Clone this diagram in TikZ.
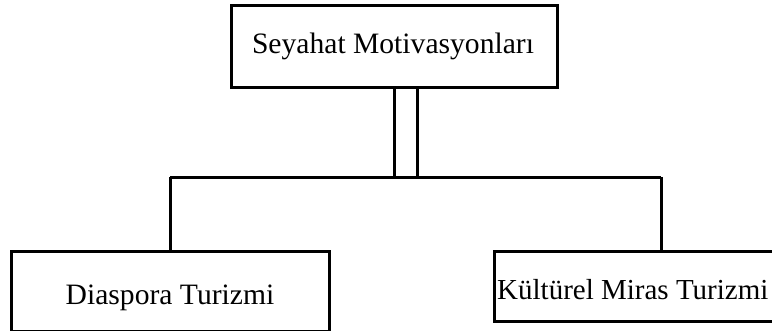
\documentclass[tikz,border=0pt]{standalone}
\usepackage{fontspec}
\setmainfont{Liberation Serif}
\begin{document}
\begin{tikzpicture}[x=1pt,y=-1pt,
  box/.style={draw=black,line width=3pt,fill=white,inner sep=0pt},
  conn/.style={draw=black,line width=3pt},
  lbl/.style={font=\fontsize{29.6}{31}\selectfont,inner sep=0pt}]
\useasboundingbox (0,0) rectangle (772,330);
\clip (0,0) rectangle (772,330);
\node[box,minimum width=326pt,minimum height=82pt] (top) at (394,46) {};
\node[lbl] (toptext) at (393,46) {Seyahat Motivasyonları};
\node[box,minimum width=318pt,minimum height=80pt] (left) at (170,291) {};
\node[lbl] (lefttext) at (170,298) {Diaspora Turizmi};
\node[box,minimum width=334pt,minimum height=70pt] (right) at (661,286) {};
\node[lbl,font=\fontsize{29}{31}\selectfont,anchor=west] (righttext) at (497,290) {Kültürel Miras Turizmi};
\coordinate (j1) at (394,177);
\coordinate (j2) at (417,177);
\coordinate (hl) at (170,177);
\coordinate (hr) at (661,177);
\draw[conn] (top.south -| j1) -- (j1);
\draw[conn] (top.south -| j2) -- (j2);
\draw[conn] (hl) -- (hr);
\draw[conn] (hl) -- (left.north);
\draw[conn] (hr) -- (right.north);
\end{tikzpicture}
\end{document}
